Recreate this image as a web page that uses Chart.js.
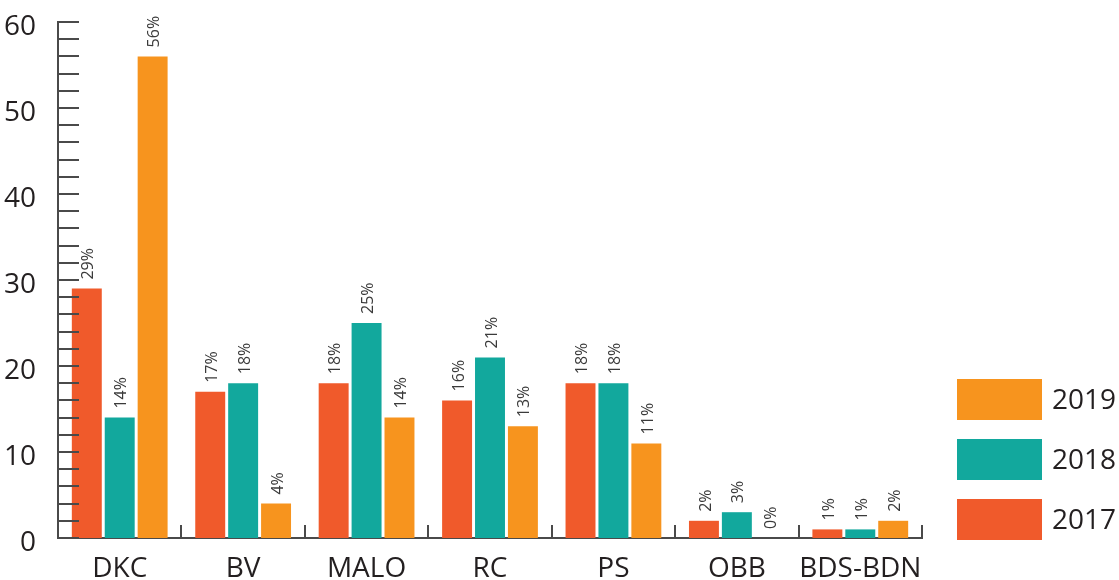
<!DOCTYPE html>
<html>
<head>
<meta charset="utf-8">
<script src="https://cdn.jsdelivr.net/npm/chart.js@4.4.1/dist/chart.umd.min.js"></script>
<style>
  html, body { margin: 0; padding: 0; background: #ffffff; }
  #wrap { width: 1119px; height: 580px; position: relative; }
</style>
</head>
<body>
<div id="wrap"><canvas id="c" width="1119" height="580"></canvas></div>
<script>
// Categories and yearly values (shares in %)
const categories = ['DKC', 'BV', 'MALO', 'RC', 'PS', 'OBB', 'BDS-BDN'];
const years = ['2017', '2018', '2019'];
const values2017 = [29, 17, 18, 16, 18, 2, 1];
const values2018 = [14, 18, 25, 21, 18, 3, 1];
const values2019 = [56, 4, 14, 13, 11, 0, 2];
const yTickLabels = [0, 10, 20, 30, 40, 50, 60];

const colors = ['#f05a2b', '#12a89d', '#f7941e'];
const FONT = '"Open Sans", "DejaVu Sans", sans-serif';
const TEXT = '#231f20';
const AXIS = '#4a4a4a';

// Small tick marks inside the plot: minor every 2 units on y, dividers between categories on x
const axisTicks = {
  id: 'axisTicks',
  afterDatasetsDraw(chart) {
    const { ctx, chartArea, scales } = chart;
    const y = scales.y, x = scales.x;
    ctx.save();
    ctx.strokeStyle = AXIS;
    ctx.lineWidth = 2;
    for (let v = y.min; v <= y.max; v += 2) {
      const py = Math.round(y.getPixelForValue(v));
      ctx.beginPath();
      ctx.moveTo(chartArea.left, py);
      ctx.lineTo(chartArea.left + 21, py);
      ctx.stroke();
    }
    const half = (x.getPixelForValue(1) - x.getPixelForValue(0)) / 2;
    for (let i = 0; i < categories.length; i++) {
      const px = Math.round(x.getPixelForValue(i) + half);
      ctx.beginPath();
      ctx.moveTo(px, chartArea.bottom);
      ctx.lineTo(px, chartArea.bottom - 13);
      ctx.stroke();
    }
    ctx.restore();
  }
};

// Rotated percentage labels above each bar
const barLabels = {
  id: 'barLabels',
  afterDatasetsDraw(chart) {
    const { ctx } = chart;
    ctx.save();
    ctx.font = '16px ' + FONT;
    ctx.fillStyle = '#3a3a3a';
    ctx.textAlign = 'left';
    ctx.textBaseline = 'middle';
    chart.data.datasets.forEach((ds, di) => {
      const meta = chart.getDatasetMeta(di);
      meta.data.forEach((bar, j) => {
        ctx.save();
        ctx.translate(bar.x + 2, bar.y - 9);
        ctx.rotate(-Math.PI / 2);
        ctx.fillText(ds.data[j] + '%', 0, 0);
        ctx.restore();
      });
    });
    ctx.restore();
  }
};

// Legend at the right, latest year on top
const sideLegend = {
  id: 'sideLegend',
  afterDraw(chart) {
    const { ctx } = chart;
    ctx.save();
    ctx.font = '28px ' + FONT;
    ctx.textBaseline = 'middle';
    ctx.textAlign = 'left';
    const order = [2, 1, 0];
    order.forEach((di, k) => {
      const top = 379 + k * 60;
      ctx.fillStyle = chart.data.datasets[di].backgroundColor;
      ctx.fillRect(957, top, 85, 41);
      ctx.fillStyle = TEXT;
      ctx.fillText(chart.data.datasets[di].label, 1052, top + 22);
    });
    ctx.restore();
  }
};

new Chart(document.getElementById('c'), {
  type: 'bar',
  data: {
    labels: categories,
    datasets: [
      { label: years[0], data: values2017, backgroundColor: colors[0] },
      { label: years[1], data: values2018, backgroundColor: colors[1] },
      { label: years[2], data: values2019, backgroundColor: colors[2] }
    ]
  },
  options: {
    responsive: false,
    animation: false,
    devicePixelRatio: 1,
    layout: { padding: { top: 22, right: 197, left: 0, bottom: 0 } },
    datasets: { bar: { categoryPercentage: 0.8, barPercentage: 0.91 } },
    plugins: { legend: { display: false }, tooltip: { enabled: false } },
    scales: {
      x: {
        grid: { display: false },
        border: { display: true, color: AXIS, width: 2 },
        ticks: { color: TEXT, font: { family: FONT, size: 28 }, padding: 6, maxRotation: 0, autoSkip: false },
        afterFit(s) { s.height = 42; s.paddingLeft = 0; s.paddingRight = 0; }
      },
      y: {
        min: 0,
        max: 60,
        grid: { display: false },
        border: { display: true, color: AXIS, width: 2 },
        ticks: {
          stepSize: 2,
          autoSkip: false,
          padding: 14,
          labelOffset: 5,
          color: TEXT,
          font: { family: FONT, size: 28 },
          callback: (v) => (yTickLabels.includes(v) ? String(v) : '')
        },
        afterFit(s) { s.width = 58; s.paddingTop = 0; s.paddingBottom = 0; }
      }
    }
  },
  plugins: [axisTicks, barLabels, sideLegend]
});
</script>
</body>
</html>
